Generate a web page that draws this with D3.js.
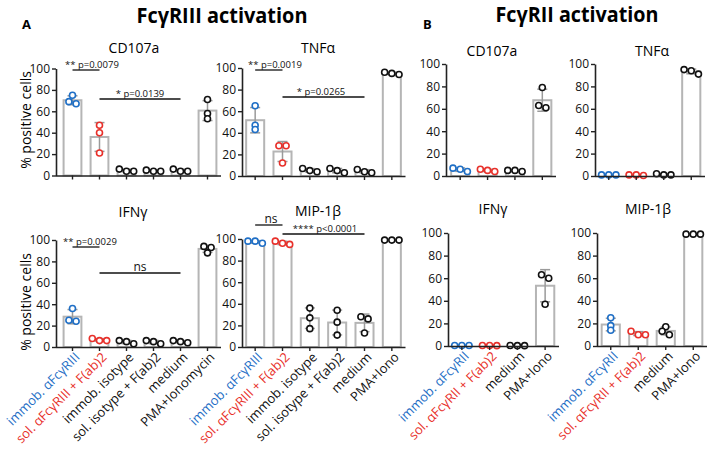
<!DOCTYPE html>
<html><head><meta charset="utf-8">
<script src="https://cdn.jsdelivr.net/npm/d3@7"></script>
<style>
body{margin:0;background:#fff;}
svg{display:block;font-family:"Open Sans",sans-serif;}
</style></head>
<body><svg id="c" width="708" height="452"></svg>
<script>
// ---------- data ----------
const groupsA_top = ["immob. αFcγRIII","sol. αFcγRIII + F(ab)2","immob. isotype","sol. isotype + F(ab)2","medium","PMA+Ionomycin"];
const groupsA_bot2 = ["immob. αFcγRIII","sol. αFcγRIII + F(ab)2","immob. isotype","sol. isotype + F(ab)2","medium","PMA+Iono"];
const groupsB = ["immob. αFcγRII","sol. αFcγRII + F(ab)2","medium","PMA+Iono"];
const groupColorsA = ["#1f6fc6","#e8302a","#111","#111","#111","#111"];
const groupColorsB = ["#1f6fc6","#e8302a","#111","#111"];
const yTicks = [0,20,40,60,80,100];

// replicate values (% positive cells), 3 donors per group
const A_CD107a = [[75,67,69],[47,40,21],[4,6,4],[4,5,4],[4,6,4],[71,58,53]];
const A_TNFa   = [[65,47,43],[28,28,12],[4,7,5],[3,7,5],[3,6,4],[94,96,95]];
const A_IFNg   = [[36,25,24],[6,8,6],[3,6,5],[3,6,5],[4,6,5],[94,88,93]];
const A_MIP1b  = [[96,98,98],[95,98,96],[36,27,17],[34,23,11],[26,28,13],[99,99,99]];
const B_CD107a = [[4,7,6],[4,6,5],[4,5,5],[79,61,63]];
const B_TNFa   = [[1,1,1],[0.5,1,1],[1,2,1],[95,91,94]];
const B_IFNg   = [[0.5,0.5,0.5],[0.3,0.5,0.5],[0.3,0.5,0.3],[60,63,37]];
const B_MIP1b  = [[25,14,18],[10,13,10],[10,17,13],[99,99,99]];

// significance annotations: [fromGroup, toGroup, label]
const sig_A_CD107a = [[0,1,"** p=0.0079"],[1,4,"* p=0.0139"]];
const sig_A_TNFa   = [[0,1,"** p=0.0019"],[1,4,"* p=0.0265"]];
const sig_A_IFNg   = [[0,1,"** p=0.0029"],[1,4,"ns"]];
const sig_A_MIP1b  = [[0,1,"ns"],[1,4,"**** p<0.0001"]];

// ---------- layout ----------
const svg = d3.select("#c");
const panels = [
  {title:"CD107a", data:A_CD107a, groups:groupsA_top, colors:groupColorsA, ax:56, xr:[59,221], yr:[175.5,68.5], tx:134, ty:53, labels:false, ylab:true, ylabY:120, sig:sig_A_CD107a, sigY:[70,99], sigTx:[[65,"start"],[140,"middle"]]},
  {title:"TNFα", data:A_TNFa, groups:groupsA_top, colors:groupColorsA, ax:242, xr:[241.5,405.5], yr:[176,68], tx:318, ty:53, labels:false, sig:sig_A_TNFa, sigY:[70,97], sigTx:[[248,"start"],[321,"middle"]]},
  {title:"IFNγ", data:A_IFNg, groups:groupsA_top, colors:groupColorsA, ax:56, xr:[59,221], yr:[347,240], tx:133, ty:217, labels:true, ylab:true, ylabY:302, sig:sig_A_IFNg, sigY:[247,273], sigTx:[[63,"start"],[140,"middle"]]},
  {title:"MIP-1β", data:A_MIP1b, groups:groupsA_bot2, colors:groupColorsA, ax:242, xr:[241.5,405.5], yr:[347,239], tx:318, ty:216, labels:true, sig:sig_A_MIP1b, sigY:[225,234], sigTx:[[271,"middle"],[325,"middle"]]},
  {title:"CD107a", data:B_CD107a, groups:groupsB, colors:groupColorsB, ax:446, xr:[446.5,556], yr:[176,64], tx:492, ty:56, labels:false},
  {title:"TNFα", data:B_TNFa, groups:groupsB, colors:groupColorsB, ax:595, xr:[595,705], yr:[176,64], tx:652, ty:56, labels:false},
  {title:"IFNγ", data:B_IFNg, groups:groupsB, colors:groupColorsB, ax:448, xr:[448,559], yr:[346,233], tx:493, ty:214, labels:true},
  {title:"MIP-1β", data:B_MIP1b, groups:groupsB, colors:groupColorsB, ax:597, xr:[597,707], yr:[346,233], tx:648, ty:214, labels:true}
];

// headings
svg.append("text").attr("x",222).attr("y",23).attr("text-anchor","middle").attr("font-weight","bold").attr("font-size",21)
  .attr("textLength",171).attr("lengthAdjust","spacingAndGlyphs").text("FcγRIII activation");
svg.append("text").attr("x",577).attr("y",22).attr("text-anchor","middle").attr("font-weight","bold").attr("font-size",21)
  .attr("textLength",163).attr("lengthAdjust","spacingAndGlyphs").text("FcγRII activation");
svg.append("text").attr("x",22).attr("y",29).attr("font-weight","bold").attr("font-size",13).text("A");
svg.append("text").attr("x",423).attr("y",29).attr("font-weight","bold").attr("font-size",13).text("B");

const mean = a => d3.mean(a);
const sd = a => d3.deviation(a);

panels.forEach(p => {
  const g = svg.append("g");
  const x = d3.scaleBand().domain(p.groups).range(p.xr).paddingInner(0.34).paddingOuter(0.17);
  const y = d3.scaleLinear().domain([0,100]).range(p.yr);
  const bw = x.bandwidth();

  // bars
  g.selectAll("rect.bar").data(p.data).enter().append("rect")
    .attr("x",(d,i)=>x(p.groups[i]))
    .attr("y",d=>y(mean(d)))
    .attr("width",bw)
    .attr("height",d=>y(0)-y(mean(d)))
    .attr("fill","#fff").attr("stroke","#b5b5b5").attr("stroke-width",2);

  // error bars (mean ± SD)
  p.data.forEach((d,i)=>{
    const cx = x(p.groups[i]) + bw/2;
    const m = mean(d), s = sd(d);
    const y1 = y(Math.min(100.5,m+s)), y0 = y(Math.max(0,m-s));
    g.append("line").attr("x1",cx).attr("x2",cx).attr("y1",y0).attr("y2",y1).attr("stroke","#9a9a9a").attr("stroke-width",1.5);
    [y0,y1].forEach(yy=>g.append("line").attr("x1",cx-5).attr("x2",cx+5).attr("y1",yy).attr("y2",yy).attr("stroke","#9a9a9a").attr("stroke-width",1.5));
  });

  // points with simple clustering spread
  p.data.forEach((d,i)=>{
    const cx = x(p.groups[i]) + bw/2;
    const pts = d.map(v=>({v, py:y(v)})).sort((a,b)=>a.py-b.py);
    const clusters=[]; let cur=[pts[0]];
    for(let k=1;k<pts.length;k++){
      if(pts[k].py - cur[cur.length-1].py < 3.5) cur.push(pts[k]); else {clusters.push(cur); cur=[pts[k]];}
    }
    clusters.push(cur);
    clusters.forEach(c=>c.forEach((pt,j)=>{ pt.px = cx + (j-(c.length-1)/2)*7.2; }));
    g.selectAll(null).data(pts).enter().append("circle")
      .attr("cx",q=>q.px).attr("cy",q=>q.py).attr("r",3)
      .attr("fill","#fff").attr("stroke",p.colors[i]).attr("stroke-width",1.6);
  });

  // y axis
  const ya = g.append("g").attr("transform",`translate(${p.ax},0)`)
    .call(d3.axisLeft(y).tickValues(yTicks).tickSize(4).tickPadding(2).tickSizeOuter(0));
  ya.select(".domain").attr("stroke","#222").attr("stroke-width",1.6);
  ya.selectAll(".tick line").attr("stroke","#222").attr("stroke-width",1.4);
  ya.selectAll(".tick text").attr("font-size",12).attr("fill","#111").attr("font-family","Open Sans");

  // x axis
  const xa = g.append("g").attr("transform",`translate(0,${y(0)})`)
    .call(d3.axisBottom(x).tickSize(4).tickSizeOuter(0).tickFormat(p.labels?(d=>d):""));
  xa.select(".domain").attr("d",`M${p.ax},0.5H${p.xr[1]}`).attr("stroke","#222").attr("stroke-width",1.6);
  xa.selectAll(".tick line").attr("stroke","#222").attr("stroke-width",1.4);
  if(p.labels){
    xa.selectAll(".tick text")
      .attr("font-size",13).attr("font-family","Open Sans")
      .attr("fill",(d,i)=>p.colors[i])
      .attr("text-anchor","end")
      .attr("x",0).attr("y",0).attr("dy",0)
      .attr("transform","translate(8,11) rotate(-45)");
  }

  // panel title
  g.append("text").attr("x",p.tx).attr("y",p.ty).attr("text-anchor","middle").attr("font-size",14).text(p.title);

  // y label
  if(p.ylab){
    g.append("text").attr("transform",`translate(31,${p.ylabY}) rotate(-90)`).attr("text-anchor","middle").attr("font-size",14).text("% positive cells");
  }

  // significance
  if(p.sig){
    p.sig.forEach((s,k)=>{
      const x1 = x(p.groups[s[0]])+bw/2, x2 = x(p.groups[s[1]])+bw/2;
      const yy = p.sigY[k];
      g.append("line").attr("x1",x1).attr("x2",x2).attr("y1",yy).attr("y2",yy).attr("stroke","#111").attr("stroke-width",1.3);
      const t = p.sigTx[k];
      g.append("text").attr("x",t[0]).attr("y",yy-2.5).attr("text-anchor",t[1]).attr("font-size",s[2]==="ns"?12:9.5).attr("fill","#111").text(s[2]);
    });
  }
});
</script></body></html>
